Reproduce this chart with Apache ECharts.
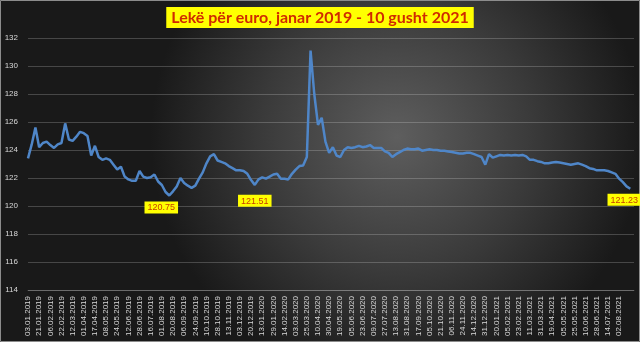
<!DOCTYPE html>
<html>
<head>
<meta charset="utf-8">
<script src="https://cdn.jsdelivr.net/npm/echarts@6/dist/echarts.min.js"></script>
<style>html,body{margin:0;padding:0;background:#222;}#c{width:640px;height:342px;}</style>
</head>
<body>
<div id="c"></div>
<script>
const titleText = 'Lekë për euro, janar 2019 - 10 gusht 2021';
const tickLabels = ['03.01.2019','21.01.2019','06.02.2019','22.02.2019','12.03.2019','01.04.2019','17.04.2019','08.05.2019','24.05.2019','12.06.2019','28.06.2019','16.07.2019','01.08.2019','20.08.2019','06.09.2019','24.09.2019','10.10.2019','28.10.2019','13.11.2019','03.12.2019','20.12.2019','13.01.2020','29.01.2020','14.02.2020','03.03.2020','25.03.2020','10.04.2020','30.04.2020','19.05.2020','05.06.2020','23.06.2020','09.07.2020','27.07.2020','13.08.2020','31.08.2020','17.09.2020','05.10.2020','21.10.2020','06.11.2020','24.11.2020','14.12.2020','31.12.2020','20.01.2021','05.02.2021','23.02.2021','11.03.2021','31.03.2021','19.04.2021','05.05.2021','25.05.2021','10.06.2021','28.06.2021','14.07.2021','02.08.2021'];
const yTicks = [114,116,118,120,122,124,126,128,130,132];
const rate = [
123.4,124.4,125.6, 124.2,124.5,124.6, 124.35,124.15,124.4, 124.5,125.9,124.75,
124.65,124.95,125.3, 125.2,125.0,123.6, 124.3,123.5,123.3, 123.4,123.3,122.95,
122.6,122.8,122.1, 121.9,121.8,121.8, 122.5,122.1,122.0, 122.05,122.25,121.75,
121.5,121.0,120.75, 121.05,121.4,122.0, 121.65,121.45,121.3, 121.45,121.95,122.4,
123.05,123.55,123.7, 123.25,123.15,123.05, 122.85,122.7,122.55, 122.55,122.5,122.3,
121.85,121.51,121.9, 122.05,121.95,122.1, 122.25,122.3,121.95, 121.95,121.9,122.3,
122.6,122.85,122.9, 123.5,131.1,128.0, 125.8,126.3,124.6, 123.8,124.2,123.6,
123.5,124.0,124.2, 124.15,124.2,124.3, 124.2,124.25,124.35, 124.15,124.15,124.15,
123.9,123.8,123.5, 123.7,123.85,124.0, 124.1,124.05,124.05, 124.1,123.95,124.0,
124.05,124.0,124.0, 123.95,123.95,123.9, 123.85,123.8,123.75, 123.75,123.8,123.8,
123.7,123.6,123.5, 122.95,123.7,123.45, 123.55,123.65,123.6, 123.65,123.6,123.65,
123.6,123.65,123.55, 123.3,123.3,123.2, 123.15,123.05,123.05, 123.1,123.15,123.1,
123.05,123.0,122.95, 123.0,123.05,122.95, 122.85,122.7,122.65, 122.55,122.55,122.55,
122.5,122.4,122.3, 121.95,121.7,121.4,121.23, null
];
const labeledPoints = [38, 61, 162];

const perTick = 3;
const categories = rate.map((v, i) => {
  const k = Math.min(Math.floor(i / perTick), tickLabels.length - 1);
  const off = i - k * perTick;
  return off ? tickLabels[k] + ' +' + off : tickLabels[k];
});

const labelPlacement = {
  38: {distance: 5, offset: [-8, 0]},
  61: {distance: 9, offset: [0, 0]},
  162: {distance: 4, offset: [-6, 0]}
};
const labelData = labeledPoints.map((i) => {
  const p = labelPlacement[i];
  return {value: [i, rate[i]], label: {distance: p.distance, offset: p.offset}};
});

const chart = echarts.init(document.getElementById('c'), null, {renderer: 'canvas'});
chart.setOption({
  animation: false,
  backgroundColor: {type: 'radial', x: 0.62, y: 0.4, r: 0.72,
    colorStops: [{offset: 0, color: '#5e5e5e'}, {offset: 0.55, color: '#3a3a3a'}, {offset: 1, color: '#191919'}]},
  title: {
    text: titleText, left: 'center', top: 7,
    backgroundColor: '#ffff00', padding: [3, 5, 2, 5],
    textStyle: {color: '#d02a00', fontSize: 16, fontWeight: 'bold', fontFamily: 'Lato'}
  },
  grid: {left: 28, right: 6, top: 38, bottom: 52, containLabel: false},
  xAxis: {
    type: 'category', data: categories, boundaryGap: false,
    axisLine: {show: true, lineStyle: {color: 'rgba(255,255,255,0.2)'}},
    axisTick: {show: false},
    axisLabel: {
      rotate: 90, margin: 6, color: '#d8d8d8', fontSize: 8, fontFamily: 'Liberation Sans',
      interval: (idx, val) => tickLabels.indexOf(val) >= 0
    },
    splitLine: {show: false}
  },
  yAxis: {
    type: 'value', min: yTicks[0], max: yTicks[yTicks.length - 1], interval: 2,
    axisLine: {show: false}, axisTick: {show: false},
    axisLabel: {color: '#d8d8d8', fontSize: 8, fontFamily: 'Liberation Sans', margin: 10},
    splitLine: {lineStyle: {color: 'rgba(255,255,255,0.2)', width: 1}}
  },
  series: [{
    type: 'line', data: rate, showSymbol: false, symbol: 'none',
    lineStyle: {color: '#4f86c8', width: 2.5}, itemStyle: {color: '#4f86c8'},
    connectNulls: false
  }, {
    type: 'scatter', data: labelData, symbol: 'circle', symbolSize: 2,
    itemStyle: {color: 'rgba(0,0,0,0)', opacity: 1}, z: 5,
    label: {show: true, position: 'bottom',
      formatter: (x) => x.value[1].toFixed(2), backgroundColor: '#ffff00', color: '#c84000',
      fontSize: 9, fontFamily: 'Liberation Sans', padding: [2, 3, 1, 3]}
  }],
  graphic: [{type: 'rect', shape: {x: 0.5, y: 0.5, width: 639, height: 341},
    style: {fill: 'none', stroke: '#8c8c8c', lineWidth: 1}, silent: true}]
});
</script>
</body>
</html>
